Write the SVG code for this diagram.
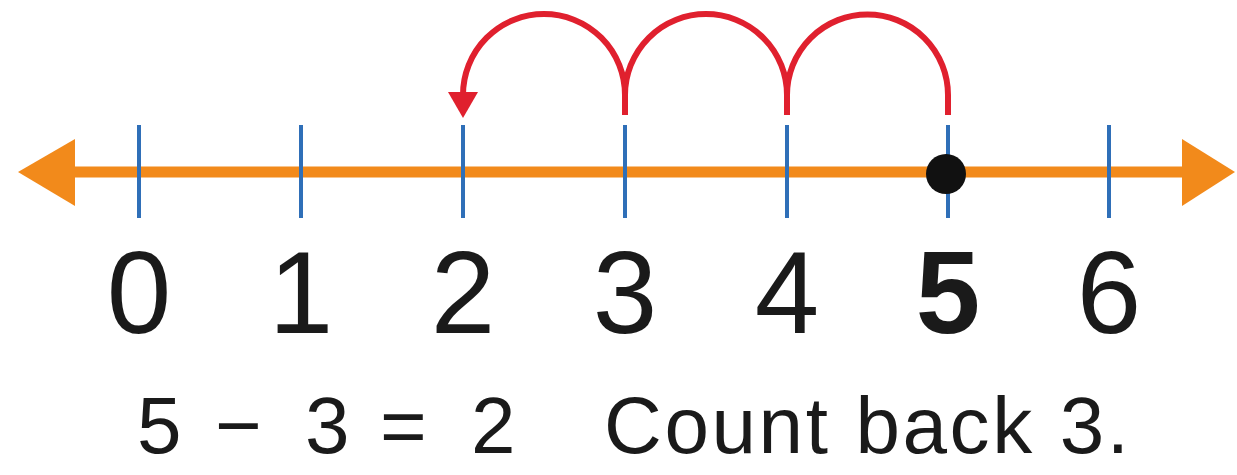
<svg xmlns="http://www.w3.org/2000/svg" width="1237" height="475" viewBox="0 0 1237 475">
<defs>
<style>
.tick{stroke:#2f6fb8;stroke-width:4;}
.num{font-family:"Liberation Sans",Arial,sans-serif;font-size:116px;fill:#1a1a1a;text-anchor:middle;}
.cap{font-family:"Liberation Sans",Arial,sans-serif;font-size:80px;fill:#1a1a1a;}
.jump{fill:none;stroke:#e0202e;stroke-width:6;}
</style>
</defs>
<rect width="1237" height="475" fill="#ffffff"/>
<g id="axis">
<line x1="60" y1="172" x2="1195" y2="172" stroke="#f28a1b" stroke-width="11"/>
<polygon points="18,172 75,139 75,206" fill="#f28a1b"/>
<polygon points="1235,172 1182,139 1182,206" fill="#f28a1b"/>
</g>
<g id="ticks">
<line class="tick" x1="139" y1="125" x2="139" y2="218"/>
<line class="tick" x1="301" y1="125" x2="301" y2="218"/>
<line class="tick" x1="463" y1="125" x2="463" y2="218"/>
<line class="tick" x1="625" y1="125" x2="625" y2="218"/>
<line class="tick" x1="787" y1="125" x2="787" y2="218"/>
<line class="tick" x1="948" y1="125" x2="948" y2="218"/>
<line class="tick" x1="1109" y1="125" x2="1109" y2="218"/>
</g>
<g id="dot"><circle cx="946" cy="174" r="20" fill="#111"/></g>
<g id="connectors">
<path class="jump" d="M948,115 L948,95 A80.5,80.5 0 0 0 787,95 L787,115"/>
<path class="jump" d="M787,115 L787,95 A81,81 0 0 0 625,95 L625,115"/>
<path class="jump" d="M625,115 L625,95 A81,81 0 0 0 463,95 L463,98"/>
<polygon points="448,92 478,92 463,118" fill="#e0202e"/>
</g>
<g id="labels">
<text class="num" x="139" y="333">0</text>
<text class="num" x="301" y="333">1</text>
<text class="num" x="463" y="333">2</text>
<text class="num" x="625" y="333">3</text>
<text class="num" x="787" y="333">4</text>
<text class="num" x="948" y="333" font-weight="bold">5</text>
<text class="num" x="1109" y="333">6</text>
</g>
<g id="caption">
<text class="cap" x="137" y="453">5</text>
<text class="cap" x="215" y="453">−</text>
<text class="cap" x="305" y="453">3</text>
<text class="cap" x="380" y="453">=</text>
<text class="cap" x="471" y="453">2</text>
<text class="cap" x="604" y="453" textLength="525" lengthAdjust="spacing">Count back 3.</text>
</g>
</svg>
